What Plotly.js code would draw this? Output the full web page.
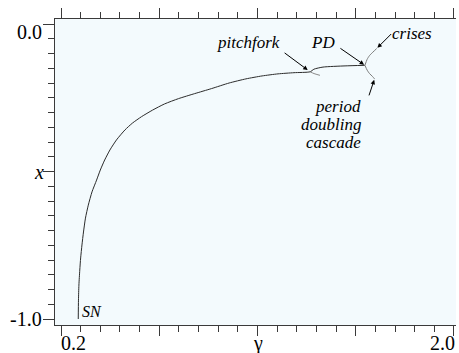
<!DOCTYPE html>
<html>
<head>
<meta charset="utf-8">
<script src="https://cdn.plot.ly/plotly-3.0.1.min.js"></script>
<style>
  html, body { margin: 0; padding: 0; background: #ffffff; }
  #chart { width: 459px; height: 353px; }
  /* every label of the figure is set in a Times-style serif */
  #chart text, #chart tspan { font-family: 'Liberation Serif', serif !important; }
</style>
</head>
<body>
<div id="chart"></div>
<script>
// Steady-state branch: from the saddle-node (SN) up to the period-doubling point (PD)
const gammaMain = [0.279, 0.280, 0.282, 0.286, 0.290, 0.296, 0.303, 0.312, 0.325, 0.342,
                   0.363, 0.380, 0.400, 0.424, 0.454, 0.493, 0.527, 0.569, 0.619, 0.674,
                   0.738, 0.812, 0.889, 0.970, 1.047, 1.121, 1.194, 1.267, 1.341,
                   1.359, 1.400, 1.501, 1.592];
const xMain     = [-1.000, -0.936, -0.885, -0.834, -0.793, -0.749, -0.705, -0.658, -0.614, -0.569,
                   -0.529, -0.495, -0.461, -0.427, -0.393, -0.359, -0.336, -0.314, -0.292, -0.271,
                   -0.253, -0.236, -0.219, -0.200, -0.186, -0.176, -0.169, -0.165, -0.162,
                   -0.153, -0.146, -0.142, -0.140];

// Second branch leaving the pitchfork
const gammaFork = [1.341, 1.359, 1.386];
const xFork     = [-0.162, -0.168, -0.174];

// Period-doubled branches after PD
const gammaPDUpper = [1.592, 1.602, 1.613, 1.629, 1.646];
const xPDUpper     = [-0.140, -0.120, -0.107, -0.095, -0.083];
const gammaPDLower = [1.592, 1.602, 1.613, 1.627, 1.636];
const xPDLower     = [-0.140, -0.156, -0.168, -0.178, -0.186];

// Axis ticks
const xLabelVals = [0.2, 1.1, 2.0];
const xLabelText = ['0.2', 'γ', '2.0'];
const xMidTicks  = [0.65, 1.55];
const yLabelVals = [0.0, -0.5, -1.0];
const yLabelText = ['0.0', '<i>x</i>', '-1.0'];

const SERIF = 'Liberation Serif';
const AXIS_COLOR = '#3a3a3a';

const traces = [
  { x: gammaMain, y: xMain, mode: 'lines', line: { color: '#2b2b2b', width: 1, shape: 'spline', smoothing: 0.6 }, hoverinfo: 'skip' },
  { x: gammaFork, y: xFork, mode: 'lines', line: { color: '#8a8a8a', width: 1, shape: 'spline', smoothing: 0.6 }, hoverinfo: 'skip' },
  { x: gammaPDUpper, y: xPDUpper, mode: 'lines', line: { color: '#7a7a7a', width: 1, shape: 'spline', smoothing: 0.6 }, hoverinfo: 'skip' },
  { x: gammaPDLower, y: xPDLower, mode: 'lines', line: { color: '#7a7a7a', width: 1, shape: 'spline', smoothing: 0.6 }, hoverinfo: 'skip' }
];

const xRange = [0.1725, 2.0092];
const yRange = [-1.0203, 0.0170];

const annotations = [];

// tick labels
xLabelVals.forEach((v, i) => {
  const anchor = i === 0 ? 'left' : (i === xLabelVals.length - 1 ? 'right' : 'center');
  annotations.push({
    xref: 'x', yref: 'paper', x: v, y: 0, xanchor: anchor, yanchor: 'top',
    yshift: -5, xshift: anchor === 'left' ? -2 : (anchor === 'right' ? 3 : 0),
    text: xLabelText[i], showarrow: false,
    font: { family: SERIF, size: 20, color: '#000' }
  });
});
yLabelVals.forEach((v, i) => {
  const shift = i === 0 ? -8 : 0;
  annotations.push({
    xref: 'paper', yref: 'y', x: 0, y: v, xanchor: 'right', yanchor: 'middle',
    xshift: i === 1 ? -9 : -11, yshift: shift,
    text: yLabelText[i], showarrow: false,
    font: { family: SERIF, size: 20, color: '#000' }
  });
});

// labelled features with arrows
const labelFont = { family: SERIF, size: 17, color: '#000' };
const iFork = 28;                       // pitchfork point in the main branch
const iPD = gammaMain.length - 1;       // period-doubling point
const arrowStyle = { showarrow: true, arrowhead: 2, arrowsize: 0.9, arrowwidth: 1, arrowcolor: '#000', text: '' };

annotations.push(Object.assign({ x: gammaMain[iFork], y: xMain[iFork], ax: -27, ay: -20, standoff: 3 }, arrowStyle));
annotations.push(Object.assign({ x: gammaMain[iPD], y: xMain[iPD], ax: -26, ay: -18, standoff: 1 }, arrowStyle));
annotations.push(Object.assign({ x: gammaPDUpper[4], y: xPDUpper[4], ax: 16, ay: -16, standoff: 1 }, arrowStyle));
annotations.push(Object.assign({ x: gammaPDLower[4], y: xPDLower[4], ax: -6, ay: 18, standoff: 1 }, arrowStyle));

annotations.push({ x: 1.059, y: -0.064, text: '<i>pitchfork</i>', showarrow: false, font: labelFont });
annotations.push({ x: 1.402, y: -0.063, text: '<i>PD</i>', showarrow: false, font: labelFont });
annotations.push({ x: 1.806, y: -0.031, text: '<i>crises</i>', showarrow: false, font: labelFont });
annotations.push({ x: 1.585, y: -0.278, xanchor: 'right', text: '<i>period</i>', showarrow: false, font: labelFont });
annotations.push({ x: 1.585, y: -0.340, xanchor: 'right', text: '<i>doubling</i>', showarrow: false, font: labelFont });
annotations.push({ x: 1.585, y: -0.403, xanchor: 'right', text: '<i>cascade</i>', showarrow: false, font: labelFont });
annotations.push({ x: 0.342, y: -0.976, text: '<i>SN</i>', showarrow: false, font: { family: SERIF, size: 16, color: '#000' } });

const layout = {
  width: 459,
  height: 353,
  margin: { l: 55, r: 3, t: 19, b: 28, pad: 0 },
  paper_bgcolor: '#ffffff',
  plot_bgcolor: '#f3fafd',
  showlegend: false,
  font: { family: SERIF, color: '#000' },
  xaxis: {
    range: xRange, showgrid: false, zeroline: false,
    showline: true, linecolor: AXIS_COLOR, linewidth: 1, mirror: 'ticks',
    ticks: 'outside', tickmode: 'array', tickvals: xLabelVals.concat(xMidTicks),
    ticklen: 10, tickwidth: 1, tickcolor: AXIS_COLOR,
    showticklabels: false,
    minor: { ticks: 'outside', tick0: 0.2, dtick: 0.09, ticklen: 6, tickwidth: 1, tickcolor: AXIS_COLOR, showgrid: false }
  },
  yaxis: {
    range: yRange, showgrid: false, zeroline: false,
    showline: true, linecolor: AXIS_COLOR, linewidth: 1, mirror: false,
    ticks: 'outside', tickmode: 'array', tickvals: yLabelVals, ticklen: 11, tickwidth: 1, tickcolor: AXIS_COLOR,
    showticklabels: false,
    minor: { ticks: 'outside', tick0: 0, dtick: 0.05, ticklen: 6, tickwidth: 1, tickcolor: AXIS_COLOR, showgrid: false }
  },
  annotations: annotations
};

Plotly.newPlot('chart', traces, layout, { staticPlot: true, displayModeBar: false });
</script>
</body>
</html>
